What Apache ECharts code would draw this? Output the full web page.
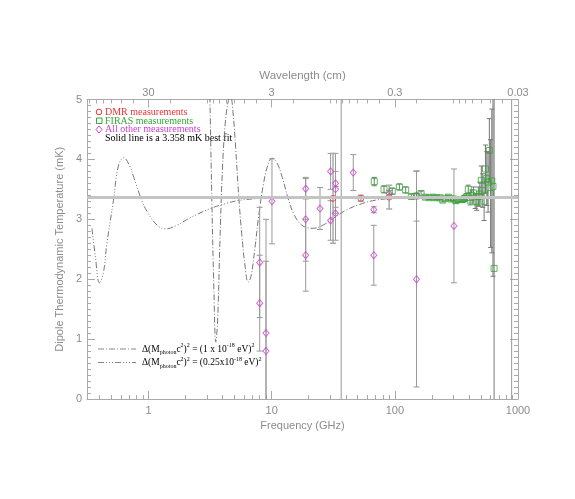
<!DOCTYPE html>
<html>
<head>
<meta charset="utf-8">
<script src="https://cdn.jsdelivr.net/npm/echarts@6/dist/echarts.min.js"></script>
<style>
html, body { margin: 0; padding: 0; background: #fff; }
#chart { width: 575px; height: 499px; }
</style>
</head>
<body>
<div id="chart"></div>
<script>
// axis ticks (frequency in GHz, wavelength in cm)
var freqTicks = [1, 10, 100, 1000];
var freqLabels = ['1', '10', '100', '1000'];
var freqMinor = [0.4, 0.5, 0.6, 0.7, 0.8, 0.9, 2, 3, 4, 5, 6, 7, 8, 9,
                 20, 30, 40, 50, 60, 70, 80, 90, 200, 300, 400, 500, 600, 700, 800, 900];
var waveLabels = ['30', '3', '0.3', '0.03'];
var waveMinor = [90, 80, 70, 60, 50, 40, 20, 10, 9, 8, 7, 6, 5, 4, 2, 1,
                 0.9, 0.8, 0.7, 0.6, 0.5, 0.4, 0.2, 0.1, 0.09, 0.08, 0.07, 0.06, 0.05, 0.04];

// DMR
var dmrFreq = [31.5, 53, 90];
var dmrTemp = [3.35, 3.35, 3.37];
var dmrErr  = [0.75, 0.05, 0.2];

// FIRAS
var firasFreq = [68.1, 81.7, 95.3, 108.9, 122.5, 136.2, 149.8, 163.4, 177.0, 190.6,
                 204.2, 217.8, 231.4, 245.1, 258.7, 272.3, 285.9, 299.5, 313.1, 326.7,
                 340.3, 354.0, 367.6, 381.2, 394.8, 408.4, 422.0, 435.6, 449.2, 462.9,
                 476.5, 490.1, 503.7, 517.3, 530.9, 544.5, 558.1, 571.7, 585.4, 599.0,
                 612.6, 626.2, 639.8];
var firasTemp = [3.63, 3.50, 3.47, 3.54, 3.49, 3.38, 3.39, 3.43, 3.37, 3.36,
                 3.37, 3.36, 3.36, 3.32, 3.35, 3.37, 3.34, 3.34, 3.31, 3.33,
                 3.33, 3.33, 3.35, 3.37, 3.50, 3.32, 3.40, 3.44, 3.30, 3.29,
                 3.38, 3.42, 3.65, 3.48, 3.30, 3.84, 3.68, 3.62, 4.15, 3.43,
                 3.64, 3.55, 2.18];
var firasErr  = [0.07, 0.06, 0.05, 0.05, 0.05, 0.04, 0.04, 0.04, 0.03, 0.03,
                 0.03, 0.03, 0.03, 0.03, 0.03, 0.03, 0.03, 0.03, 0.04, 0.04,
                 0.04, 0.05, 0.05, 0.06, 0.07, 0.08, 0.09, 0.10, 0.12, 0.14,
                 0.16, 0.20, 0.24, 0.28, 0.32, 0.40, 0.45, 0.50, 0.53, 0.90,
                 1.20, 1.50, 3.20];

// all other measurements
var otherFreq = [8.0, 8.0, 9.0, 9.0, 10.06, 18.9, 18.9, 18.9, 24.7, 30.1, 30.1,
                 33.0, 33.0, 33.0, 36.7, 46.0, 67.5, 67.5, 90.0, 150, 150, 302, 888];
var otherTemp = [2.28, 1.60, 1.10, 0.80, 3.30, 3.51, 3.00, 2.40, 3.18, 3.80, 2.98,
                 3.60, 3.50, 3.10, 5.60, 3.78, 2.40, 3.16, 3.43, 3.39, 2.00, 2.89, 5.60];
var otherErr  = [0.92, 0.80, 1.90, 1.50, 0.71, 0.17, 0.70, 0.60, 0.35, 0.30, 0.33,
                 0.50, 0.30, 0.45, 7.00, 0.30, 0.50, 0.05, 0.05, 0.42, 1.80, 0.95, 7.00];

var bestFit = 3.358;

// photon mass models
var heavyFreq = [3.12, 3.25, 3.40, 3.52, 3.64, 3.80, 3.98, 4.20, 4.45, 4.64, 4.85, 5.10,
                 5.40, 5.75, 6.10, 6.45, 6.80, 7.30, 7.90, 8.60, 9.30, 10.1, 11.0, 12.2,
                 13.6, 15.2, 17.2, 19.5, 22.0, 26.0, 32.0, 40.0, 52.0, 70.0, 100, 200, 900];
var heavyTemp = [5.6, 3.6, 1.8, 0.95, 1.3, 2.6, 3.8, 4.6, 4.98, 5.05, 4.8, 4.2,
                 3.4, 2.7, 2.2, 1.95, 2.05, 2.5, 3.1, 3.6, 3.9, 4.02, 3.95, 3.7,
                 3.35, 3.08, 2.92, 2.86, 2.85, 2.9, 3.02, 3.15, 3.25, 3.32, 3.35, 3.36, 3.36];
var lightFreq = [0.348, 0.371, 0.40, 0.43, 0.46, 0.52, 0.57, 0.63, 0.70, 0.76, 0.87,
                 0.98, 1.18, 1.37, 1.70, 2.20, 3.19, 4.20, 5.60, 9.0, 20, 900];
var lightTemp = [2.85, 2.37, 1.94, 2.1, 2.6, 3.32, 3.89, 4.03, 3.9, 3.7, 3.35,
                 3.12, 2.9, 2.84, 2.9, 3.03, 3.18, 3.26, 3.32, 3.35, 3.36, 3.36];

var xMin = 0.317, xMax = 1000;
var axisGray = '#aaaaaa';
var textGray = '#8c8c8c';
var serif = '"Liberation Serif", serif';
var sans = '"Liberation Sans", sans-serif';

function pairs(xs, ys) {
  return xs.map(function (x, i) { return [x, ys[i]]; });
}
function bars(xs, ys, es) {
  return xs.map(function (x, i) { return [x, ys[i] - es[i], ys[i] + es[i]]; });
}
function errorBars(color, width, cap) {
  return function (params, api) {
    var lo = api.coord([api.value(0), api.value(1)]);
    var hi = api.coord([api.value(0), api.value(2)]);
    var st = { stroke: color, lineWidth: width };
    return {
      type: 'group',
      children: [
        { type: 'line', shape: { x1: lo[0], y1: lo[1], x2: hi[0], y2: hi[1] }, style: st },
        { type: 'line', shape: { x1: lo[0] - cap, y1: lo[1], x2: lo[0] + cap, y2: lo[1] }, style: st },
        { type: 'line', shape: { x1: hi[0] - cap, y1: hi[1], x2: hi[0] + cap, y2: hi[1] }, style: st }
      ]
    };
  };
}

var chart = echarts.init(document.getElementById('chart'));

var logAxis = function (extra) {
  return Object.assign({
    type: 'log', logBase: 10, min: xMin, max: xMax, gridIndex: 0,
    splitLine: { show: false },
    axisLine: { show: true, lineStyle: { color: axisGray, width: 1 } },
    axisTick: { show: true, inside: true, length: 8, lineStyle: { color: axisGray } },
    axisLabel: { show: false },
    minorTick: { show: false }
  }, extra);
};

var richLegend = {
  n: { fontFamily: serif, fontSize: 9.5, fill: '#000', lineHeight: 13 },
  sub: { fontFamily: serif, fontSize: 6, fill: '#000', lineHeight: 13, verticalAlign: 'bottom' },
  sup: { fontFamily: serif, fontSize: 6, fill: '#000', lineHeight: 13, verticalAlign: 'top' }
};

var option = {
  animation: false,
  backgroundColor: '#fff',
  grid: { left: 87, top: 99.5, width: 431, height: 299.5 },
  xAxis: [
    logAxis({
      position: 'bottom',
      name: 'Frequency (GHz)', nameLocation: 'middle', nameGap: 19,
      nameTextStyle: { color: textGray, fontFamily: sans, fontSize: 11 },
      axisTick: { show: true, inside: true, length: 8, customValues: freqTicks, lineStyle: { color: axisGray } },
      axisLabel: {
        show: true, customValues: freqTicks, margin: 6, color: textGray, fontFamily: sans, fontSize: 11,
        formatter: function (v) { return freqLabels[freqTicks.indexOf(Math.round(v * 1000) / 1000)] || ''; }
      }
    }),
    logAxis({
      position: 'bottom', axisLine: { show: false },
      axisTick: { show: true, inside: true, length: 4, customValues: freqMinor, lineStyle: { color: axisGray } }
    }),
    logAxis({
      position: 'top',
      name: 'Wavelength (cm)', nameLocation: 'middle', nameGap: 18,
      nameTextStyle: { color: textGray, fontFamily: sans, fontSize: 11.5 },
      axisTick: { show: true, inside: true, length: 8, customValues: freqTicks, lineStyle: { color: axisGray } },
      axisLabel: {
        show: true, customValues: freqTicks, margin: 1, color: textGray, fontFamily: sans, fontSize: 11,
        formatter: function (v) { return waveLabels[freqTicks.indexOf(Math.round(v * 1000) / 1000)] || ''; }
      }
    }),
    logAxis({
      position: 'top', axisLine: { show: false },
      axisTick: {
        show: true, inside: true, length: 4, lineStyle: { color: axisGray },
        customValues: waveMinor.map(function (w) { return 30 / w; })
      }
    })
  ],
  yAxis: [
    {
      type: 'value', min: 0, max: 5, interval: 1, position: 'left',
      name: 'Dipole Thermodynamic Temperature (mK)', nameLocation: 'middle', nameGap: 20,
      nameTextStyle: { color: textGray, fontFamily: sans, fontSize: 11 },
      splitLine: { show: false },
      axisLine: { show: true, lineStyle: { color: axisGray } },
      axisTick: { show: true, inside: true, length: 8, lineStyle: { color: axisGray } },
      minorTick: { show: true, splitNumber: 10, length: 4, lineStyle: { color: axisGray } },
      axisLabel: { color: textGray, fontFamily: sans, fontSize: 11, margin: 5 }
    },
    {
      type: 'value', min: 0, max: 5, interval: 1, position: 'right',
      splitLine: { show: false },
      axisLine: { show: true, lineStyle: { color: axisGray } },
      axisTick: { show: true, inside: true, length: 8, lineStyle: { color: axisGray } },
      minorTick: { show: true, splitNumber: 10, length: 4, lineStyle: { color: axisGray } },
      axisLabel: { show: false }
    }
  ],
  series: [
    {
      type: 'line', data: pairs(lightFreq, lightTemp), smooth: 0.4, symbol: 'none', clip: true, z: 2,
      lineStyle: { color: '#777', width: 1, type: [6, 2, 1, 2, 1, 2, 1, 2] },
      markLine: {
        silent: true, symbol: 'none', label: { show: false },
        lineStyle: { color: '#c4c4c4', width: 3, type: 'solid' },
        data: [{ yAxis: bestFit }]
      }
    },
    {
      type: 'line', data: pairs(heavyFreq, heavyTemp), smooth: 0.4, symbol: 'none', clip: true, z: 2,
      lineStyle: { color: '#777', width: 1, type: [6, 2, 1, 2] }
    },
    {
      type: 'custom', data: bars(otherFreq, otherTemp, otherErr), clip: true, z: 3,
      renderItem: errorBars('#999', 1, 3), encode: { x: 0, y: [1, 2] }
    },
    {
      type: 'custom', data: bars(dmrFreq, dmrTemp, dmrErr), clip: true, z: 3,
      renderItem: errorBars('#aaa', 1.5, 3), encode: { x: 0, y: [1, 2] }
    },
    {
      type: 'custom', data: bars(firasFreq, firasTemp, firasErr), clip: true, z: 3,
      renderItem: errorBars('#777', 1, 2.5), encode: { x: 0, y: [1, 2] }
    },
    {
      name: 'All other measurements', type: 'scatter', data: pairs(otherFreq, otherTemp), z: 4, clip: true,
      symbol: 'diamond', symbolSize: [6, 7],
      itemStyle: { color: 'rgba(0,0,0,0)', borderColor: '#d040d0', borderWidth: 1 }
    },
    {
      name: 'DMR measurements', type: 'scatter', data: pairs(dmrFreq, dmrTemp), z: 4,
      symbol: 'circle', symbolSize: 6,
      itemStyle: { color: 'rgba(0,0,0,0)', borderColor: '#ee3333', borderWidth: 1 }
    },
    {
      name: 'FIRAS measurements', type: 'scatter', data: pairs(firasFreq, firasTemp), z: 4,
      symbol: 'rect', symbolSize: 6,
      itemStyle: { color: 'rgba(0,0,0,0)', borderColor: '#33aa33', borderWidth: 1 }
    }
  ],
  graphic: [
    { type: 'circle', shape: { cx: 99, cy: 112, r: 2.8 }, style: { fill: 'none', stroke: '#ee3333', lineWidth: 1 } },
    { type: 'text', x: 105, y: 112, style: { text: 'DMR measurements', fill: '#ee3333', font: '10px ' + serif, verticalAlign: 'middle' } },
    { type: 'rect', shape: { x: 96.5, y: 118, width: 5.5, height: 5.5 }, style: { fill: 'none', stroke: '#33aa33', lineWidth: 1 } },
    { type: 'text', x: 105, y: 121, style: { text: 'FIRAS measurements', fill: '#33aa33', font: '10px ' + serif, verticalAlign: 'middle' } },
    { type: 'polygon', shape: { points: [[99, 126], [102, 129.5], [99, 133], [96, 129.5]] }, style: { fill: 'none', stroke: '#d040d0', lineWidth: 1 } },
    { type: 'text', x: 105, y: 129.5, style: { text: 'All other measurements', fill: '#d040d0', font: '10px ' + serif, verticalAlign: 'middle' } },
    { type: 'text', x: 105, y: 138, style: { text: 'Solid line is a 3.358 mK best fit', fill: '#000', font: '10px ' + serif, verticalAlign: 'middle' } },

    { type: 'line', shape: { x1: 98, y1: 349, x2: 136, y2: 349 }, style: { stroke: '#888', lineWidth: 1, lineDash: [6, 2, 1, 2] } },
    {
      type: 'text', x: 142, y: 349,
      style: {
        text: '{n|Δ(M}{sub|photon}{n|c}{sup|2}{n|)}{sup|2}{n| = (1 x 10}{sup|-18}{n| eV)}{sup|2}',
        verticalAlign: 'middle', rich: richLegend
      }
    },
    { type: 'line', shape: { x1: 98, y1: 362.5, x2: 136, y2: 362.5 }, style: { stroke: '#888', lineWidth: 1, lineDash: [6, 2, 1, 2, 1, 2, 1, 2] } },
    {
      type: 'text', x: 142, y: 362.5,
      style: {
        text: '{n|Δ(M}{sub|photon}{n|c}{sup|2}{n|)}{sup|2}{n| = (0.25x10}{sup|-18}{n| eV)}{sup|2}',
        verticalAlign: 'middle', rich: richLegend
      }
    }
  ]
};

chart.setOption(option);
</script>
</body>
</html>
